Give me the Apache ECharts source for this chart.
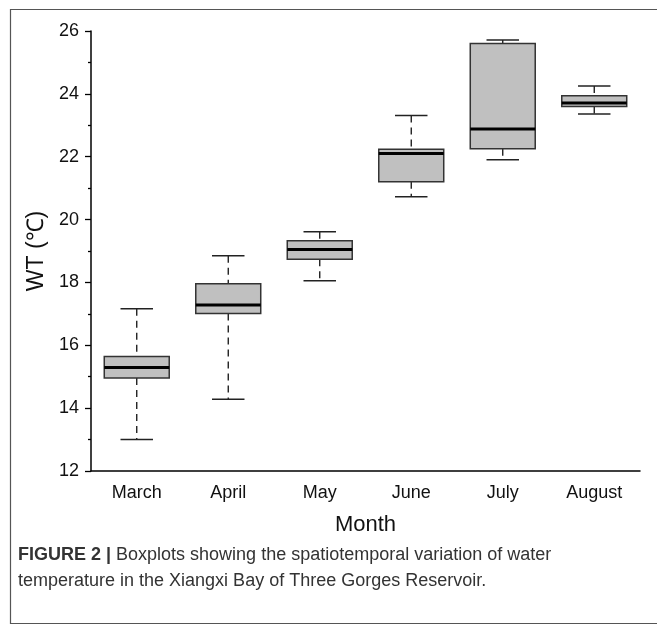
<!DOCTYPE html>
<html>
<head>
<meta charset="utf-8">
<script src="https://cdn.jsdelivr.net/npm/echarts@6/dist/echarts.min.js"></script>
<style>html,body{margin:0;padding:0;background:#fff}#c{width:657px;height:629px}</style>
</head>
<body>
<div id="c"></div>
<script>
const months = ["March", "April", "May", "June", "July", "August"];
const whiskerLow  = [13.00, 14.28, 18.05, 20.73, 21.90, 23.36];
const quartile1   = [14.96, 17.01, 18.74, 21.20, 22.25, 23.60];
const medians     = [15.29, 17.28, 19.05, 22.10, 22.88, 23.71];
const quartile3   = [15.64, 17.96, 19.33, 22.24, 25.60, 23.94];
const whiskerHigh = [17.16, 18.85, 19.61, 23.31, 25.71, 24.25];
const yTicks = [12, 14, 16, 18, 20, 22, 24, 26];

const boxData = months.map((m, i) => [i, whiskerLow[i], quartile1[i], medians[i], quartile3[i], whiskerHigh[i]]);

const chart = echarts.init(document.getElementById('c'), null, {renderer: 'canvas'});
const FONT = '"Liberation Sans", Arial, sans-serif';

function renderBox(params, api) {
  const idx = api.value(0);
  const lo = api.coord([idx, api.value(1)]);
  const q1 = api.coord([idx, api.value(2)]);
  const md = api.coord([idx, api.value(3)]);
  const q3 = api.coord([idx, api.value(4)]);
  const hi = api.coord([idx, api.value(5)]);
  const band = api.size([1, 0])[0];
  const bw = band * 0.71;
  const cw = bw * 0.5;
  const x = md[0];
  const dash = {stroke: '#111', lineWidth: 1.3, lineDash: [7, 5]};
  const solid = {stroke: '#222', lineWidth: 1.5};
  return {
    type: 'group',
    children: [
      {type: 'line', shape: {x1: x, y1: hi[1], x2: x, y2: q3[1]}, style: dash},
      {type: 'line', shape: {x1: x, y1: q1[1], x2: x, y2: lo[1]}, style: dash},
      {type: 'line', shape: {x1: x - cw / 2, y1: hi[1], x2: x + cw / 2, y2: hi[1]}, style: solid},
      {type: 'line', shape: {x1: x - cw / 2, y1: lo[1], x2: x + cw / 2, y2: lo[1]}, style: solid},
      {type: 'rect', shape: {x: x - bw / 2, y: q3[1], width: bw, height: q1[1] - q3[1]},
        style: {fill: '#c0c0c0', stroke: '#333', lineWidth: 1.5}},
      {type: 'line', shape: {x1: x - bw / 2, y1: md[1], x2: x + bw / 2, y2: md[1]},
        style: {stroke: '#000', lineWidth: 3}}
    ]
  };
}

chart.setOption({
  animation: false,
  backgroundColor: '#fff',
  grid: {left: 91, top: 31, right: 17, bottom: 158},
  xAxis: {
    type: 'category',
    data: months,
    boundaryGap: true,
    axisLine: {lineStyle: {color: '#000', width: 1.5}},
    axisTick: {alignWithLabel: true, length: 6, lineStyle: {color: '#000', width: 1.3}},
    axisLabel: {color: '#111', fontSize: 18, fontFamily: FONT, margin: 13},
    name: 'Month',
    nameLocation: 'middle',
    nameGap: 43,
    nameTextStyle: {color: '#111', fontSize: 22, fontFamily: FONT}
  },
  yAxis: {
    type: 'value',
    min: yTicks[0],
    max: yTicks[yTicks.length - 1],
    interval: 2,
    axisLine: {show: true, lineStyle: {color: '#000', width: 1.5}},
    axisTick: {show: true, inside: false, length: 6, lineStyle: {color: '#000', width: 1.3}},
    minorTick: {show: true, splitNumber: 2, length: 3, lineStyle: {color: '#000', width: 1.3}},
    splitLine: {show: false},
    axisLabel: {color: '#111', fontSize: 18, fontFamily: FONT, margin: 12},
    name: 'WT (℃)',
    nameLocation: 'middle',
    nameGap: 41,
    nameTextStyle: {color: '#111', fontSize: 23, fontFamily: FONT}
  },
  series: [{
    type: 'custom',
    renderItem: renderBox,
    encode: {x: 0, y: [1, 2, 3, 4, 5]},
    data: boxData
  }],
  graphic: [
    {type: 'rect', left: 8, top: 7, shape: {x: 0, y: 0, width: 660, height: 614},
      style: {fill: 'none', stroke: '#555', lineWidth: 1.2}, silent: true},
    {type: 'text', left: 18, top: 546, style: {
      text: '{b|FIGURE 2 |} Boxplots showing the spatiotemporal variation of water',
      rich: {b: {fontWeight: 'bold', fontSize: 18, fontFamily: FONT, fill: '#333'}},
      fontSize: 18, fontFamily: FONT, fill: '#333'}},
    {type: 'text', left: 18, top: 572, style: {
      text: 'temperature in the Xiangxi Bay of Three Gorges Reservoir.',
      fontSize: 18, fontFamily: FONT, fill: '#333'}}
  ]
});
</script>
</body>
</html>
